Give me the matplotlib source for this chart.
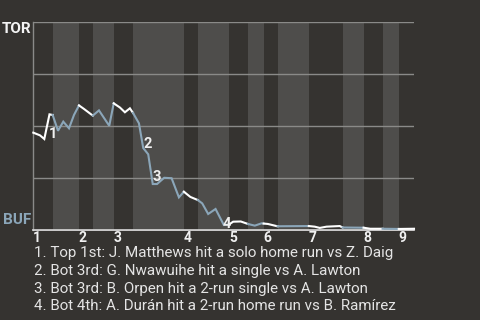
import matplotlib
matplotlib.use("Agg")
import matplotlib.pyplot as plt

# Half-inning boundaries (play units); even index = start of top half
half_edges = [0, 4.07, 9.6, 12.5, 16.9, 20.95, 31.64, 34.58, 41.1, 45.1,
              48.4, 51.35, 57.9, 65.0, 69.4, 73.4, 76.8, 80]
innings = ["1", "2", "3", "4", "5", "6", "7", "8", "9"]

# TOR win probability by play
x = [0, 1.41, 2.31, 3.40, 4.07, 5.19, 6.30, 7.50, 8.55, 9.6, 10.65, 12.5,
     13.80, 15.96, 16.9, 18.2, 19.25, 20.3, 20.95, 22.2, 23.1, 24.15, 25.1,
     26.0, 27.5, 29.06, 30.6, 31.64, 33.0, 34.58, 35.5, 36.75, 38.3, 40.04,
     41.1, 42.0, 43.6, 45.1, 46.55, 47.95, 48.4, 49.3, 51.1, 51.35, 57.9,
     59.15, 60.2, 61.6, 64.4, 65.0, 69.4, 70.8, 73.4, 76.8, 80]
wp = [.468, .455, .4375, .556, .553, .477, .521, .489, .553, .599, .582, .550,
      .575, .501, .609, .589, .566, .585, .563, .513, .394, .364, .221,
      .221, .251, .249, .157, .184, .159, .144, .128, .077, .101, .024,
      .026, .040, .041, .029, .021, .032, .031, .029, .019, .018, .019,
      .016, .010, .016, .019, .012, .011, .006, .006, .005, .006]

# Key events: index into the series above and description
event_idx = [2, 20, 22, 33]
event_text = [
    "1. Top 1st: J. Matthews hit a solo home run vs Z. Daig",
    "2. Bot 3rd: G. Nwawuihe hit a single vs A. Lawton",
    "3. Bot 3rd: B. Orpen hit a 2-run single vs A. Lawton",
    "4. Bot 4th: A. Durán hit a 2-run home run vs B. Ramírez",
]
event_offsets = [(3, 1), (0, 0), (0, 2), (-1, -2)]

BG = "#353330"
LIGHT = "#4e4d4b"
BLUE = "#8ba6b9"
WHITE = "#ffffff"
GRID = "#8a8a88"

plt.rcParams["font.family"] = ["Roboto", "DejaVu Sans"]

fig = plt.figure(figsize=(4.8, 3.2), dpi=100, facecolor=BG)
ax = fig.add_axes([33.3 / 480, 1 - 230 / 320, (414 - 33.3) / 480, 208 / 320])
ax.set_facecolor(BG)
ax.set_xlim(half_edges[0], half_edges[-1])
ax.set_ylim(0, 1)

# bottom-half shaded bands
for i in range(1, len(half_edges) - 1, 2):
    ax.axvspan(half_edges[i], half_edges[i + 1], color=LIGHT, lw=0, zorder=0)

ax.set_yticks([0, .25, .5, .75, 1])
ax.yaxis.grid(True, color=GRID, lw=1.0, zorder=1)
ax.set_axisbelow(False)
ax.tick_params(axis="y", length=0, labelleft=False)

# line segments coloured by half-inning
for i in range(len(half_edges) - 1):
    lo, hi = half_edges[i], half_edges[i + 1]
    xs = [a for a in x if lo - 1e-9 <= a <= hi + 1e-9]
    ys = [b for a, b in zip(x, wp) if lo - 1e-9 <= a <= hi + 1e-9]
    ax.plot(xs, ys, color=WHITE if i % 2 == 0 else BLUE, lw=1.5,
            zorder=3, clip_on=False, solid_joinstyle="miter")

# event numbers
for n, (idx, off) in enumerate(zip(event_idx, event_offsets), start=1):
    ax.annotate(str(n), (x[idx], wp[idx]), xytext=off, textcoords="offset points",
                ha="left", va="baseline", color="#f0f0f0", fontsize=10.5,
                fontweight="bold", zorder=4)

for s in ["top", "right"]:
    ax.spines[s].set_visible(False)
ax.spines["left"].set_color(GRID)
ax.spines["left"].set_linewidth(1.0)
ax.spines["bottom"].set_color("#e8e8e8")
ax.spines["bottom"].set_linewidth(1.2)

ax.set_xticks(half_edges[0:-1:2])
ax.set_xticklabels(innings, ha="left", fontweight="bold", fontsize=10,
                   color="#f0f0f0")
ax.tick_params(axis="x", length=0, pad=1)

ax.text(-0.005, 0.946, "TOR", transform=ax.transAxes, ha="right", va="baseline",
        color="#f4f4f4", fontsize=11, fontweight="bold")
ax.text(-0.005, 0.027, "BUF", transform=ax.transAxes, ha="right", va="baseline",
        color=BLUE, fontsize=11, fontweight="bold")

for k, t in enumerate(event_text):
    fig.text(34 / 480, 1 - (257.5 + 17.6 * k) / 320, t, ha="left", va="baseline",
             color="#e4e4e4", fontsize=10.9)

fig.savefig("out.png", dpi=100, facecolor=BG)
